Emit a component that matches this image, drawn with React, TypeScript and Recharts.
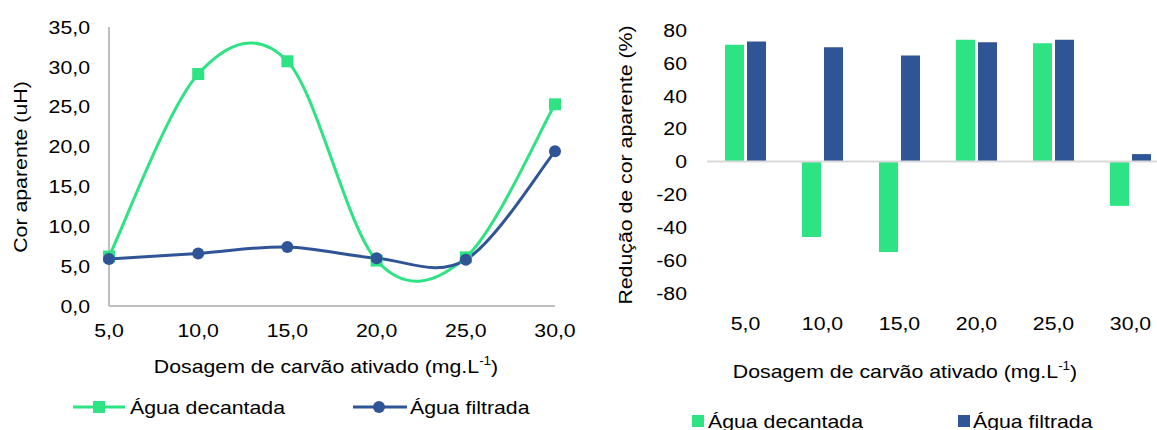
import React from 'react';
import { LineChart, Line, BarChart, Bar, XAxis, YAxis, ReferenceLine } from 'recharts';

// Dosagem de carvão ativado (mg/L)
const doses = [5, 10, 15, 20, 25, 30];
const doseLabels = ['5,0', '10,0', '15,0', '20,0', '25,0', '30,0'];

// Cor aparente (uH)
const corDecantada = [6.2, 29.1, 30.7, 5.7, 6.1, 25.3];
const corFiltrada = [5.9, 6.6, 7.4, 6.0, 5.8, 19.4];

// Redução de cor aparente (%)
const reducaoDecantada = [71, -46, -55, 74, 72, -27];
const reducaoFiltrada = [73, 69.5, 64.5, 72.5, 74, 4.5];

const corTicks = [0, 5, 10, 15, 20, 25, 30, 35];
const reducaoTicks = [-80, -60, -40, -20, 0, 20, 40, 60, 80];

const GREEN = '#2ee383';
const BLUE = '#2f5597';
const FONT = '"Liberation Sans", Arial, sans-serif';
const FS = 19;
const SX = 1.12; // the source image is a bit stretched sideways

const lineData = doses.map((d, i) => ({ dose: d, decantada: corDecantada[i], filtrada: corFiltrada[i] }));
const barData = doseLabels.map((l, i) => ({ dose: l, decantada: reducaoDecantada[i], filtrada: reducaoFiltrada[i] }));

const comma = (v: number) => v.toFixed(1).replace('.', ',');

// Excel style smoothing (Catmull-Rom through the points)
const excelSmooth = (context: any) => {
  let pts: number[][] = [];
  return {
    areaStart() {},
    areaEnd() {},
    lineStart() {
      pts = [];
    },
    lineEnd() {
      if (!pts.length) return;
      context.moveTo(pts[0][0], pts[0][1]);
      for (let i = 0; i < pts.length - 1; i++) {
        const p0 = pts[i - 1] || pts[i];
        const p1 = pts[i];
        const p2 = pts[i + 1];
        const p3 = pts[i + 2] || p2;
        context.bezierCurveTo(
          p1[0] + (p2[0] - p0[0]) / 6,
          p1[1] + (p2[1] - p0[1]) / 6,
          p2[0] - (p3[0] - p1[0]) / 6,
          p2[1] - (p3[1] - p1[1]) / 6,
          p2[0],
          p2[1]
        );
      }
    },
    point(x: number, y: number) {
      pts.push([+x, +y]);
    },
  };
};

const SquareDot = (props: any) => {
  const { cx, cy, index } = props;
  if (cx == null || cy == null) return <g key={index} />;
  return <rect key={index} x={cx - 6} y={cy - 6} width={12} height={12} fill={GREEN} />;
};

const makeTick = (fmt?: (v: any) => string) => (props: any) => {
  const { x, y, payload, textAnchor, verticalAnchor } = props;
  const dy = verticalAnchor === 'start' ? '0.71em' : '0.355em';
  return (
    <text
      transform={`translate(${x},${y}) scale(${SX},1)`}
      textAnchor={textAnchor}
      dy={dy}
      fontSize={FS}
      fontFamily={FONT}
      fill="#000"
    >
      {fmt ? fmt(payload.value) : payload.value}
    </text>
  );
};

const commaTick = makeTick(comma);
const plainTick = makeTick();

const titleStyle: React.CSSProperties = {
  position: 'absolute',
  fontSize: FS,
  color: '#000',
  whiteSpace: 'nowrap',
  lineHeight: 1,
};

const Sup = () => <sup style={{ fontSize: 12, verticalAlign: 'top', position: 'relative', top: -2 }}>-1</sup>;

export default function App() {
  return (
    <div
      style={{
        position: 'absolute',
        left: 0,
        top: 0,
        width: 1157,
        height: 430,
        overflow: 'hidden',
        background: '#fff',
        fontFamily: FONT,
      }}
    >
      <div style={{ position: 'absolute', left: 0, top: 0 }}>
        <LineChart width={580} height={430} data={lineData} margin={{ top: 27, right: 25, left: 0, bottom: 0 }}>
          <XAxis
            dataKey="dose"
            type="number"
            domain={[5, 30]}
            ticks={doses}
            tick={commaTick}
            tickLine={false}
            tickMargin={12}
            stroke="#bfbfbf"
            strokeWidth={2}
            height={124}
          />
          <YAxis
            domain={[0, 35]}
            ticks={corTicks}
            tick={commaTick}
            tickLine={false}
            tickMargin={13}
            stroke="#bfbfbf"
            strokeWidth={2}
            width={109}
            interval={0}
          />
          <Line
            dataKey="decantada"
            type={excelSmooth as any}
            stroke={GREEN}
            strokeWidth={3}
            dot={SquareDot}
            activeDot={false}
            isAnimationActive={false}
          />
          <Line
            dataKey="filtrada"
            type={excelSmooth as any}
            stroke={BLUE}
            strokeWidth={3}
            dot={{ r: 6, fill: BLUE, stroke: BLUE, strokeWidth: 0 }}
            activeDot={false}
            isAnimationActive={false}
          />
        </LineChart>
      </div>

      <div style={{ position: 'absolute', left: 580, top: 0 }}>
        <BarChart
          width={600}
          height={430}
          data={barData}
          margin={{ top: 30, right: 11, left: 0, bottom: 0 }}
          barSize={19}
          barGap={3}
        >
          <XAxis
            dataKey="dose"
            tick={plainTick}
            tickLine={false}
            axisLine={false}
            tickMargin={18}
            height={137}
            interval={0}
          />
          <YAxis
            domain={[-80, 80]}
            ticks={reducaoTicks}
            tick={plainTick}
            tickLine={false}
            axisLine={false}
            tickMargin={14}
            width={127}
            interval={0}
          />
          <ReferenceLine y={0} stroke="#d9d9d9" strokeWidth={2} />
          <Bar dataKey="decantada" fill={GREEN} isAnimationActive={false} />
          <Bar dataKey="filtrada" fill={BLUE} isAnimationActive={false} />
        </BarChart>
      </div>

      {/* axis titles */}
      <div
        style={{
          ...titleStyle,
          left: 20,
          top: 167,
          transform: `translate(-50%, -50%) rotate(-90deg) scaleX(${SX})`,
        }}
      >
        Cor aparente (uH)
      </div>
      <div style={{ ...titleStyle, left: 326, top: 366, transform: `translate(-50%, -50%) scaleX(${SX})` }}>
        Dosagem de carvão ativado (mg.L<Sup />)
      </div>
      <div
        style={{
          ...titleStyle,
          left: 625,
          top: 165,
          transform: `translate(-50%, -50%) rotate(-90deg) scaleX(${SX})`,
        }}
      >
        Redução de cor aparente (%)
      </div>
      <div style={{ ...titleStyle, left: 905, top: 371, transform: `translate(-50%, -50%) scaleX(${SX})` }}>
        Dosagem de carvão ativado (mg.L<Sup />)
      </div>

      {/* left legend */}
      <svg style={{ position: 'absolute', left: 0, top: 395 }} width={580} height={24}>
        <line x1={73} y1={12} x2={125} y2={12} stroke={GREEN} strokeWidth={3} />
        <rect x={93} y={6} width={12} height={12} fill={GREEN} />
        <line x1={353} y1={12} x2={407} y2={12} stroke={BLUE} strokeWidth={3} />
        <circle cx={379} cy={12} r={6} fill={BLUE} />
      </svg>
      <div style={{ ...titleStyle, left: 130, top: 407, transform: `translateY(-50%) scaleX(${SX})`, transformOrigin: 'left center' }}>
        Água decantada
      </div>
      <div style={{ ...titleStyle, left: 410, top: 407, transform: `translateY(-50%) scaleX(${SX})`, transformOrigin: 'left center' }}>
        Água filtrada
      </div>

      {/* right legend */}
      <div style={{ position: 'absolute', left: 692, top: 415, width: 12, height: 12, background: GREEN }} />
      <div style={{ ...titleStyle, left: 708, top: 421, transform: `translateY(-50%) scaleX(${SX})`, transformOrigin: 'left center' }}>
        Água decantada
      </div>
      <div style={{ position: 'absolute', left: 958, top: 415, width: 12, height: 12, background: BLUE }} />
      <div style={{ ...titleStyle, left: 973, top: 421, transform: `translateY(-50%) scaleX(${SX})`, transformOrigin: 'left center' }}>
        Água filtrada
      </div>
    </div>
  );
}
